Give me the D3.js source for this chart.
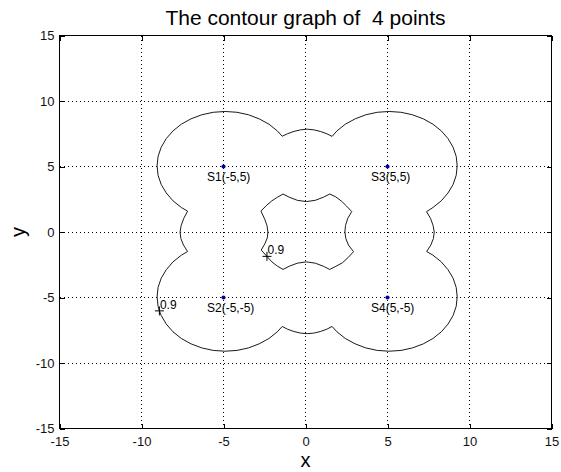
<!DOCTYPE html>
<html>
<head>
<meta charset="utf-8">
<script src="https://cdn.jsdelivr.net/npm/d3@7"></script>
<style>
  body { margin: 0; background: #fff; }
  svg { display: block; }
  text { font-family: "Liberation Sans", Arial, Helvetica, sans-serif; }
</style>
</head>
<body>
<svg id="chart" width="561" height="472"></svg>
<script>
// Sensor points
const sensorNames = ["S1", "S2", "S3", "S4"];
const sensorX = [-5, -5, 5, 5];
const sensorY = [5, -5, 5, -5];

// Contour level shown by the inline labels
const contourLevel = 0.9;

// Tick values
const xTicks = [-15, -10, -5, 0, 5, 10, 15];
const yTicks = [-15, -10, -5, 0, 5, 10, 15];

// Outer contour line (x, y), traced clockwise from the top middle
const outerContour = [
  [0.1, 7.85], [0.5, 7.8], [0.9, 7.68], [1.3, 7.5], [1.62, 7.3],
  [1.92, 7.72], [2.43, 8.23], [3.03, 8.64], [3.68, 8.95], [4.38, 9.14], [5.1, 9.2],
  [5.82, 9.14], [6.52, 8.95], [7.18, 8.64], [7.77, 8.23], [8.28, 7.72], [8.69, 7.13],
  [9.0, 6.47], [9.19, 5.77], [9.25, 5.05], [9.19, 4.33], [9.0, 3.63], [8.69, 2.98],
  [8.28, 2.38], [7.77, 1.87], [7.38, 1.55],
  [7.62, 1.05], [7.78, 0.5], [7.85, 0.0], [7.8, -0.5], [7.64, -1.0], [7.39, -1.49],
  [7.77, -1.77], [8.28, -2.28], [8.69, -2.88], [9.0, -3.53], [9.19, -4.23], [9.25, -4.95],
  [9.19, -5.67], [9.0, -6.37], [8.69, -7.03], [8.28, -7.62], [7.77, -8.13], [7.18, -8.54],
  [6.52, -8.85], [5.82, -9.04], [5.1, -9.1], [4.38, -9.04], [3.68, -8.85], [3.03, -8.54],
  [2.43, -8.13], [1.92, -7.62], [1.62, -7.21],
  [1.3, -7.42], [0.9, -7.6], [0.5, -7.72], [0.1, -7.76], [-0.3, -7.72], [-0.7, -7.6],
  [-1.1, -7.42], [-1.42, -7.21],
  [-1.72, -7.62], [-2.23, -8.13], [-2.83, -8.54], [-3.48, -8.85], [-4.18, -9.04], [-4.9, -9.1],
  [-5.62, -9.04], [-6.32, -8.85], [-6.98, -8.54], [-7.57, -8.13], [-8.08, -7.62], [-8.49, -7.03],
  [-8.8, -6.37], [-8.91, -6.02], [-8.99, -5.67], [-9.05, -4.95], [-8.99, -4.23], [-8.8, -3.53],
  [-8.49, -2.88], [-8.08, -2.28], [-7.57, -1.77], [-7.19, -1.49],
  [-7.44, -1.0], [-7.6, -0.5], [-7.65, 0.0], [-7.58, 0.5], [-7.42, 1.05], [-7.19, 1.59],
  [-7.57, 1.87], [-8.08, 2.38], [-8.49, 2.98], [-8.8, 3.63], [-8.99, 4.33], [-9.05, 5.05],
  [-8.99, 5.77], [-8.8, 6.47], [-8.49, 7.13], [-8.08, 7.72], [-7.57, 8.23], [-6.98, 8.64],
  [-6.32, 8.95], [-5.62, 9.14], [-4.9, 9.2], [-4.18, 9.14], [-3.48, 8.95], [-2.83, 8.64],
  [-2.23, 8.23], [-1.72, 7.72], [-1.42, 7.31],
  [-1.1, 7.5], [-0.7, 7.68], [-0.3, 7.8]
];

// Inner contour line (hole around the origin)
const innerContour = [
  [-1.37, 2.9], [-1.0, 2.66], [-0.5, 2.42], [0.05, 2.32], [0.6, 2.42], [1.1, 2.66], [1.48, 2.9],
  [1.85, 2.68], [2.2, 2.35], [2.5, 1.98], [2.82, 1.56],
  [2.58, 1.05], [2.44, 0.5], [2.4, 0.0], [2.46, -0.5], [2.62, -1.0], [2.93, -1.5],
  [2.6, -1.95], [2.25, -2.35], [1.85, -2.62], [1.48, -2.86],
  [1.1, -2.62], [0.6, -2.38], [0.05, -2.28], [-0.5, -2.38], [-1.0, -2.62], [-1.37, -2.86],
  [-1.72, -2.6], [-2.05, -2.28], [-2.35, -1.86], [-2.7, -1.38],
  [-2.48, -0.9], [-2.33, -0.45], [-2.29, 0.0], [-2.35, 0.5], [-2.5, 1.02], [-2.72, 1.6],
  [-2.4, 2.0], [-2.05, 2.38], [-1.72, 2.65]
];

// Where the level labels sit on the contour lines
const labelX = [-8.91, -2.35];
const labelY = [-6.02, -1.86];

const plot = { left: 59.5, right: 551.5, top: 35.5, bottom: 428.5 };
const fontFamily = '"Liberation Sans", Arial, Helvetica, sans-serif';

const svg = d3.select("#chart");

const x = d3.scaleLinear().domain([-15, 15]).range([plot.left, plot.right]);
const y = d3.scaleLinear().domain([-15, 15]).range([plot.bottom, plot.top]);

// Dotted grid
const grid = svg.append("g")
  .attr("stroke", "#000")
  .attr("stroke-width", 1)
  .attr("stroke-dasharray", "1,3")
  .attr("shape-rendering", "crispEdges");

grid.selectAll("line.gx")
  .data(xTicks.slice(1, -1))
  .join("line")
  .attr("class", "gx")
  .attr("x1", d => x(d)).attr("x2", d => x(d))
  .attr("y1", plot.bottom).attr("y2", plot.top);

grid.selectAll("line.gy")
  .data(yTicks.slice(1, -1))
  .join("line")
  .attr("class", "gy")
  .attr("y1", d => y(d)).attr("y2", d => y(d))
  .attr("x1", plot.left).attr("x2", plot.right);

// Axes with inward ticks on all four sides
function styleAxis(g) {
  g.attr("font-family", fontFamily).attr("font-size", 13);
  g.select(".domain").remove();
  g.selectAll(".tick line").attr("stroke", "#000").attr("shape-rendering", "crispEdges");
  g.selectAll(".tick text").attr("fill", "#111");
}

const fmt = d => String(d);

svg.append("g")
  .attr("transform", `translate(0,${plot.bottom})`)
  .call(d3.axisBottom(x).tickValues(xTicks).tickSize(-5).tickPadding(8).tickFormat(fmt))
  .call(styleAxis);

svg.append("g")
  .attr("transform", `translate(0,${plot.top})`)
  .call(d3.axisTop(x).tickValues(xTicks).tickSize(-5).tickFormat(""))
  .call(styleAxis);

svg.append("g")
  .attr("transform", `translate(${plot.left},0)`)
  .call(d3.axisLeft(y).tickValues(yTicks).tickSize(-5).tickPadding(5).tickFormat(fmt))
  .call(styleAxis);

svg.append("g")
  .attr("transform", `translate(${plot.right},0)`)
  .call(d3.axisRight(y).tickValues(yTicks).tickSize(-5).tickFormat(""))
  .call(styleAxis);

// Frame
svg.append("rect")
  .attr("x", plot.left).attr("y", plot.top)
  .attr("width", plot.right - plot.left)
  .attr("height", plot.bottom - plot.top)
  .attr("fill", "none")
  .attr("stroke", "#000")
  .attr("stroke-width", 1)
  .attr("shape-rendering", "crispEdges");

// Contour lines
const line = d3.line()
  .x(d => x(d[0]))
  .y(d => y(d[1]))
  .curve(d3.curveLinearClosed);

svg.append("g")
  .attr("fill", "none")
  .attr("stroke", "#1a1a1a")
  .attr("stroke-width", 1)
  .selectAll("path")
  .data([outerContour, innerContour])
  .join("path")
  .attr("d", line);

// Level labels: "+" marker and value text
const labels = labelX.map((lx, i) => ({ lx, ly: labelY[i] }));
const lab = svg.append("g");
lab.selectAll("path")
  .data(labels)
  .join("path")
  .attr("d", d => {
    const px = x(d.lx), py = y(d.ly), a = 4.5;
    return `M${px - a},${py}H${px + a}M${px},${py - a}V${py + a}`;
  })
  .attr("stroke", "#000")
  .attr("stroke-width", 1)
  .attr("fill", "none");

lab.selectAll("text")
  .data(labels)
  .join("text")
  .attr("x", d => x(d.lx) + 0.5)
  .attr("y", d => y(d.ly) - 2)
  .attr("font-size", 12)
  .attr("fill", "#000")
  .text(String(contourLevel));

// Sensor points and their names
const sensors = sensorNames.map((name, i) => ({ name, sx: sensorX[i], sy: sensorY[i] }));

svg.append("g")
  .selectAll("circle")
  .data(sensors)
  .join("circle")
  .attr("cx", d => x(d.sx))
  .attr("cy", d => y(d.sy))
  .attr("r", 2.1)
  .attr("fill", "#0000a8");

svg.append("g")
  .selectAll("text")
  .data(sensors)
  .join("text")
  .attr("x", d => x(d.sx) - 16.5)
  .attr("y", d => y(d.sy) + 14)
  .attr("font-size", 12)
  .attr("fill", "#000")
  .text(d => `${d.name}(${d.sx},${d.sy})`);

// Title and axis labels
const cx = (plot.left + plot.right) / 2;

svg.append("text")
  .attr("x", cx)
  .attr("y", 24.5)
  .attr("text-anchor", "middle")
  .attr("font-size", 21)
  .attr("fill", "#000")
  .style("white-space", "pre")
  .text(`The contour graph of  ${sensorNames.length} points`);

svg.append("text")
  .attr("x", cx)
  .attr("y", 467)
  .attr("text-anchor", "middle")
  .attr("font-size", 20)
  .attr("fill", "#000")
  .text("x");

svg.append("text")
  .attr("transform", `translate(25,${y(0)}) rotate(-90)`)
  .attr("text-anchor", "middle")
  .attr("font-size", 20)
  .attr("fill", "#000")
  .text("y");
</script>
</body>
</html>
